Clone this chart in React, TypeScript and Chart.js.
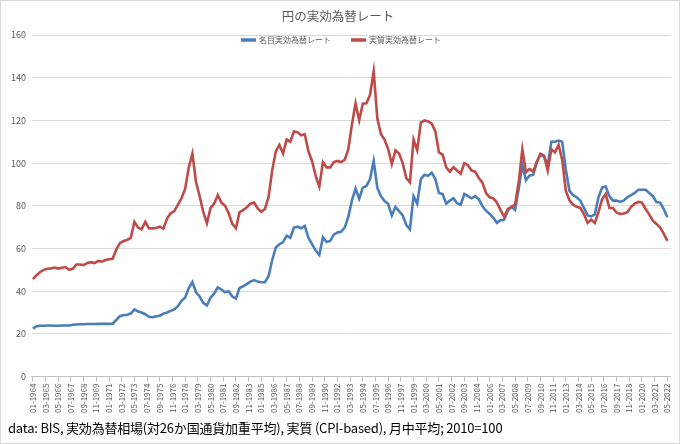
import React, { useEffect, useRef } from "react";
import { Chart, registerables } from "chart.js";

Chart.register(...registerables);

// Monthly series sampled every STEP months, starting 01-1964 (month index 0)
const STEP = 4;
const TICK_EVERY = 14;

const TICK_LABELS = [
  "01-1964", "03-1965", "05-1966", "07-1967", "09-1968", "11-1969", "01-1971", "03-1972",
  "05-1973", "07-1974", "09-1975", "11-1976", "01-1978", "03-1979", "05-1980", "07-1981",
  "09-1982", "11-1983", "01-1985", "03-1986", "05-1987", "07-1988", "09-1989", "11-1990",
  "01-1992", "03-1993", "05-1994", "07-1995", "09-1996", "11-1997", "01-1999", "03-2000",
  "05-2001", "07-2002", "09-2003", "11-2004", "01-2006", "03-2007", "05-2008", "07-2009",
  "09-2010", "11-2011", "01-2013", "03-2014", "05-2015", "07-2016", "09-2017", "11-2018",
  "01-2020", "03-2021", "05-2022",
];

const NOMINAL = [
  22.5, 23.6, 23.8, 23.8, 23.9, 23.9, 23.8, 23.8, 23.9, 23.9,
  23.9, 24.3, 24.4, 24.5, 24.5, 24.6, 24.6, 24.6, 24.7, 24.7,
  24.7, 24.7, 24.8, 26.5, 28.3, 28.8, 29, 29.5, 31.5, 30.5,
  30, 29.2, 28, 27.8, 28.3, 28.5, 29.5, 30, 30.8, 31.5,
  33, 35.5, 37, 41.5, 44.3, 39.5, 37.5, 34.5, 33.3, 37,
  38.8, 41.8, 40.8, 39.5, 40, 37.5, 36.5, 41.5, 42.3, 43.3,
  44.5, 45.2, 44.5, 44.2, 44.2, 47, 54.5, 60.5, 62, 63,
  66, 65, 69.8, 70.2, 69.5, 70.5, 65, 62, 59, 57,
  65.2, 63, 63.5, 66.5, 67.5, 67.8, 69.8, 74.8, 82.5, 88,
  83.3, 88.5, 89.3, 92.5, 101, 88.5, 84.5, 82.2, 80.8, 75.5,
  79.5, 77.5, 75.5, 71, 69, 84.5, 81, 92.5, 94.5, 94,
  95.5, 92.5, 86, 85.5, 81, 82.4, 83.5, 81.2, 80.5, 85.5,
  84.5, 83.5, 84.5, 83, 79.8, 77.7, 76.2, 74.4, 72, 73.3,
  73.5, 77.7, 79.5, 78, 88, 99, 92, 94.2, 94.5, 100.5,
  104, 103, 99, 110, 110, 110.5, 110, 97, 87, 85,
  84, 82.4, 79, 75.5, 75, 76, 84, 88.5, 89, 84.5,
  82.4, 82.5, 81.8, 82.5, 84, 85, 86, 87.5, 87.5, 87.5,
  86, 84.5, 81.8, 81.5, 78.5, 74.6,
];

const REAL = [
  45.7, 47.5, 49, 50, 50.5, 50.7, 51.1, 50.6, 51, 51.3,
  50, 50.5, 52.5, 52.5, 52.2, 53.2, 53.6, 53.2, 54.2, 53.8,
  54.6, 55, 55.2, 59.5, 62.5, 63.5, 64, 65, 72.5, 69.8,
  69, 72.5, 69.5, 69.4, 69.6, 70.2, 69.3, 74, 76.5, 77.5,
  80.5, 83.5, 88, 98, 104.5, 91, 84.5, 77, 71.8, 79,
  81, 85, 81.5, 80, 76.5, 71.5, 69.5, 77, 78, 79.3,
  81, 81.5, 78.8, 77.2, 78.5, 84, 96.5, 105.5, 108.5, 104.5,
  111, 110, 114.8, 114.5, 113, 113.5, 105.5, 101, 94, 89,
  100.4, 98, 98, 100.5, 101, 100.5, 101.5, 106.5, 118, 128,
  120, 127.8, 128, 132, 143, 121, 113.5, 111, 106.5, 99.5,
  106, 104.5, 100, 93, 91, 111, 106, 119, 120, 119.5,
  118.5, 115, 105, 104, 98, 96, 98.1, 96.5, 95, 100,
  99, 96.5, 96, 93, 90.8, 86, 84, 83.5, 81.5, 78,
  74.8, 78.5, 79.5, 80.5, 91, 106.5, 95.7, 97.3, 96, 100.5,
  104.4, 103.5, 96.5, 106.5, 105, 108.5, 101.5, 87, 82.5, 80.5,
  79.5, 79, 76, 72, 73.5, 72, 77, 83, 85.5, 79,
  79, 76.8, 76.2, 76.4, 77, 79.5, 81, 81.8, 81.5, 78.5,
  76, 73, 71.5, 69.8, 67, 63.6,
];

const SERIES_LABELS = ["名目実効為替レート", "実質実効為替レート"];
const TITLE = "円の実効為替レート";
const NOTE = "data: BIS, 実効為替相場(対26か国通貨加重平均), 実質 (CPI-based), 月中平均; 2010=100";

const FONT = '"Noto Sans CJK JP", "Noto Sans", sans-serif';
const GREY = "#595959";
const BLUE = "#4a7ebb";
const RED = "#be4b48";

const inlineLegend = {
  id: "inlineLegend",
  afterDatasetsDraw(chart: any) {
    const ctx = chart.ctx;
    const ds = chart.data.datasets;
    ctx.save();
    ctx.font = `8px ${FONT}`;
    const lineLen = 15;
    const gap = 3;
    const itemGap = 20;
    const widths = ds.map((d: any) => lineLen + gap + ctx.measureText(d.label).width);
    const total = widths.reduce((a: number, b: number) => a + b, 0) + itemGap * (ds.length - 1);
    let x = chart.width / 2 - total / 2 + 1;
    const y = chart.chartArea.top + 5;
    ds.forEach((d: any, k: number) => {
      ctx.strokeStyle = d.borderColor;
      ctx.lineWidth = 3.5;
      ctx.lineCap = "butt";
      ctx.beginPath();
      ctx.moveTo(x, y);
      ctx.lineTo(x + lineLen, y);
      ctx.stroke();
      ctx.fillStyle = GREY;
      ctx.textBaseline = "middle";
      ctx.textAlign = "left";
      ctx.fillText(d.label, x + lineLen + gap, y);
      x += widths[k] + itemGap;
    });
    ctx.restore();
  },
};

export default function App() {
  const canvasRef = useRef<HTMLCanvasElement | null>(null);

  useEffect(() => {
    if (!canvasRef.current) return;
    const toPoints = (arr: number[]) => arr.map((v, i) => ({ x: i * STEP, y: v }));
    const chart = new Chart(canvasRef.current, {
      type: "line",
      data: {
        datasets: [
          {
            label: SERIES_LABELS[0],
            data: toPoints(NOMINAL),
            borderColor: BLUE,
            backgroundColor: BLUE,
            borderWidth: 2.6,
            pointRadius: 0,
            tension: 0,
            order: 1,
          },
          {
            label: SERIES_LABELS[1],
            data: toPoints(REAL),
            borderColor: RED,
            backgroundColor: RED,
            borderWidth: 2.6,
            pointRadius: 0,
            tension: 0,
            order: 0,
          },
        ],
      },
      options: {
        animation: false,
        responsive: false,
        maintainAspectRatio: false,
        layout: { padding: { left: 4, right: 8, top: 0, bottom: 28 } },
        plugins: {
          legend: { display: false },
          tooltip: { enabled: false },
          title: {
            display: true,
            text: TITLE,
            color: GREY,
            font: { family: FONT, size: 12.5, weight: "normal" },
            padding: { top: 8, bottom: 11 },
          },
        },
        scales: {
          x: {
            type: "linear",
            min: -1,
            max: 704,
            afterBuildTicks: (axis: any) => {
              axis.ticks = TICK_LABELS.map((_, k) => ({ value: k * TICK_EVERY }));
            },
            ticks: {
              autoSkip: false,
              maxRotation: 90,
              minRotation: 90,
              padding: 2,
              color: GREY,
              font: { family: FONT, size: 8 },
              callback: (value: any) => TICK_LABELS[Math.round(Number(value) / TICK_EVERY)] ?? "",
            },
            grid: {
              display: true,
              drawOnChartArea: false,
              drawTicks: true,
              tickLength: 5,
              color: "#bfbfbf",
            },
            border: { display: true, color: "#bfbfbf" },
          },
          y: {
            min: 0,
            max: 160,
            ticks: {
              stepSize: 20,
              color: GREY,
              padding: 6,
              font: { family: FONT, size: 9 },
            },
            grid: { color: "#d9d9d9", drawTicks: false },
            border: { display: false },
          },
        },
      },
      plugins: [inlineLegend],
    } as any);
    return () => chart.destroy();
  }, []);

  return (
    <div
      style={{
        position: "absolute",
        left: 0,
        top: 0,
        width: 680,
        height: 444,
        background: "#fff",
        border: "1px solid #d9d9d9",
        boxSizing: "border-box",
        overflow: "hidden",
      }}
    >
      <canvas
        ref={canvasRef}
        width={678}
        height={442}
        style={{ position: "absolute", left: 0, top: 0, width: 678, height: 442 }}
      />
      <div
        style={{
          position: "absolute",
          left: 7,
          top: 418,
          fontFamily: FONT,
          fontSize: 13,
          letterSpacing: "-0.2px",
          lineHeight: "18px",
          color: "#000",
          whiteSpace: "nowrap",
        }}
      >
        {NOTE}
      </div>
    </div>
  );
}
